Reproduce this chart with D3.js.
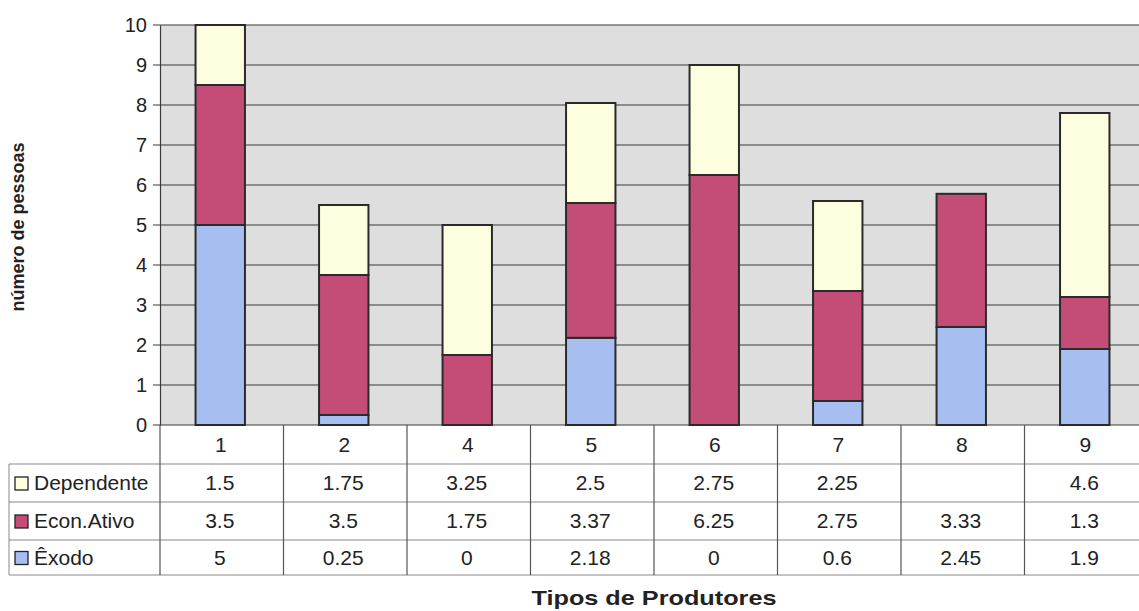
<!DOCTYPE html>
<html><head><meta charset="utf-8">
<script src="https://cdn.jsdelivr.net/npm/d3@7"></script>
<style>
html,body{margin:0;padding:0;background:#fff;overflow:hidden}
text{font-family:"Liberation Sans",Arial,sans-serif;fill:#222}
</style></head>
<body><svg id="c" width="1139" height="611"></svg>
<script>
const categories = ["1","2","4","5","6","7","8","9"];
const seriesNames = ["Dependente","Econ.Ativo","Êxodo"];
const exodo      = [5, 0.25, 0, 2.18, 0, 0.6, 2.45, 1.9];
const econAtivo  = [3.5, 3.5, 1.75, 3.37, 6.25, 2.75, 3.33, 1.3];
const dependente = [1.5, 1.75, 3.25, 2.5, 2.75, 2.25, null, 4.6];
const yTicks = [0,1,2,3,4,5,6,7,8,9,10];
const colors = {"Êxodo":"#a6bff0","Econ.Ativo":"#c44d78","Dependente":"#fdfddf"};

const svg = d3.select("#c");
const L = 160, R = 1148, T = 25, B = 425;
const x = d3.scaleBand().domain(categories).range([L, R]).padding(0);
const y = d3.scaleLinear().domain([0, 10]).range([B, T]);

svg.append("rect").attr("x", L).attr("y", T).attr("width", R - L).attr("height", B - T).attr("fill", "#dedede");

svg.append("g").selectAll("line").data(yTicks).join("line")
  .attr("x1", L - 7).attr("x2", R).attr("y1", d => y(d)).attr("y2", d => y(d))
  .attr("stroke", "#3a3a3a").attr("stroke-width", 1.2);

const yAxis = d3.axisLeft(y).tickValues(yTicks).tickSize(0).tickPadding(13);
const ga = svg.append("g").attr("transform", `translate(${L},0)`).call(yAxis);
ga.select(".domain").attr("stroke", "#3a3a3a").attr("stroke-width", 1.2);
ga.selectAll("text").attr("font-size", 20).attr("fill", "#222").attr("font-family", "Liberation Sans, Arial, sans-serif");

const rows = categories.map((c, i) => ({cat: c, "Êxodo": exodo[i], "Econ.Ativo": econAtivo[i], "Dependente": dependente[i] || 0}));
const stack = d3.stack().keys(["Êxodo", "Econ.Ativo", "Dependente"])(rows);
const bw = x.bandwidth() * 0.4;
stack.forEach(s => {
  svg.append("g").selectAll("rect").data(s.filter(d => d[1] - d[0] > 0)).join("rect")
    .attr("x", d => x(d.data.cat) + x.bandwidth() / 2 - bw / 2 - 1.5)
    .attr("width", bw)
    .attr("y", d => y(d[1]))
    .attr("height", d => y(d[0]) - y(d[1]))
    .attr("fill", colors[s.key])
    .attr("stroke", "#2a2a2a").attr("stroke-width", 2);
});

const rowY = [425, 464, 502, 540, 575];
const tbl = svg.append("g");
[464, 502, 540, 575].forEach(yy => tbl.append("line").attr("x1", 9).attr("x2", 1139).attr("y1", yy).attr("y2", yy).attr("stroke", "#888").attr("stroke-width", 1));
categories.forEach(c => tbl.append("line").attr("x1", x(c)).attr("x2", x(c)).attr("y1", 425).attr("y2", 575).attr("stroke", "#555").attr("stroke-width", 1.2));
tbl.append("line").attr("x1", 9).attr("x2", 9).attr("y1", 464).attr("y2", 575).attr("stroke", "#888");
tbl.selectAll("text.cat").data(categories).join("text").attr("class", "cat")
  .attr("x", d => x(d) + x.bandwidth() / 2 - 1).attr("y", (rowY[0] + rowY[1]) / 2 + 7)
  .attr("text-anchor", "middle").attr("font-size", 21).text(d => d);
const tableSeries = [dependente, econAtivo, exodo];
tableSeries.forEach((vals, r) => {
  const cy = (rowY[r + 1] + rowY[r + 2]) / 2 + 7;
  tbl.append("g").selectAll("text").data(vals).join("text")
    .attr("x", (d, i) => x(categories[i]) + x.bandwidth() / 2 - 2).attr("y", cy)
    .attr("text-anchor", "middle").attr("font-size", 21)
    .text(d => d == null ? "" : d);
  tbl.append("rect").attr("x", 15).attr("y", cy - 13).attr("width", 13).attr("height", 13)
    .attr("fill", colors[seriesNames[r]]).attr("stroke", "#222").attr("stroke-width", 1.3);
  tbl.append("text").attr("x", 34).attr("y", cy).attr("font-size", 21).text(seriesNames[r]);
});

svg.append("text").attr("transform", `translate(24,${(T + B) / 2 + 2}) rotate(-90)`)
  .attr("text-anchor", "middle").attr("font-size", 18).attr("font-weight", "bold").text("número de pessoas");
svg.append("text").attr("x", 654).attr("y", 605)
  .attr("text-anchor", "middle").attr("font-size", 21).attr("font-weight", "bold")
  .attr("textLength", 245).attr("lengthAdjust", "spacingAndGlyphs").text("Tipos de Produtores");
</script></body></html>
